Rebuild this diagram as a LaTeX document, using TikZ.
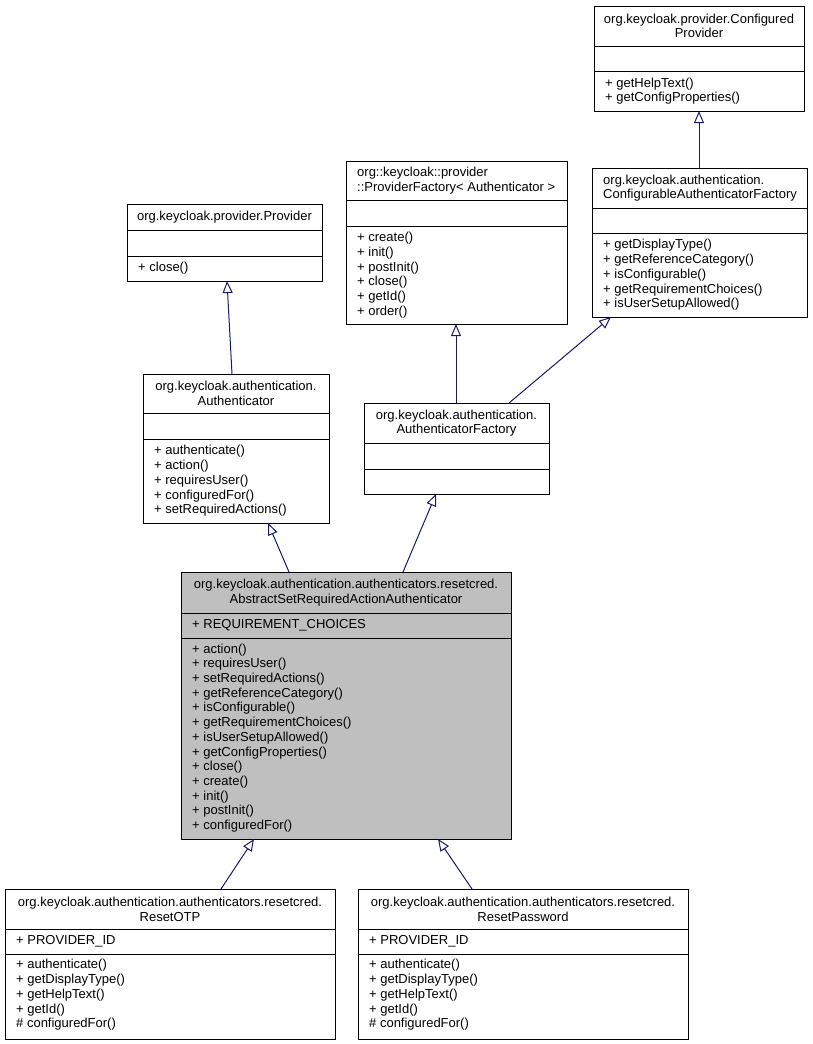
\documentclass[tikz,border=0pt]{standalone}
\usepackage{fontspec}
\setmainfont{Liberation Sans}
\usetikzlibrary{arrows.meta,calc}
\definecolor{edgeblue}{HTML}{191970}
\definecolor{absfill}{HTML}{BFBFBF}
\tikzset{
  cls/.style={draw=black, line width=1pt, fill=white, inner sep=0pt, outer sep=0pt, anchor=north west},
  divline/.style={draw=black, line width=1pt},
  ctitle/.style={inner sep=0pt, align=center, font=\fontsize{13pt}{14.7pt}\selectfont},
  ltitle/.style={inner sep=0pt, align=left, anchor=west, font=\fontsize{13pt}{14.7pt}\selectfont},
  mem/.style={inner sep=0pt, align=left, anchor=west, font=\fontsize{13pt}{14.7pt}\selectfont},
  inh/.style={draw=edgeblue, line width=1pt, -{Triangle[open, length=12pt, width=10pt, fill=white]}}
}
\begin{document}
\begin{tikzpicture}[x=1pt, y=-1pt]
\useasboundingbox[fill=white] (0,0) rectangle (812,1044);

% ConfiguredProvider
\node[cls, minimum width=210pt, minimum height=105pt] (cprov) at (594,6) {};
\draw[divline] (594,46) -- (804,46);
\draw[divline] (594,71) -- (804,71);
\node[ctitle] (cprovT) at (699,26) {org.keycloak.provider.Configured\\Provider};
\node[mem] (cprovM) at (605,91) {+ getHelpText()\\+ getConfigProperties()};

% ProviderFactory
\node[cls, minimum width=221pt, minimum height=163pt] (pfac) at (346,161) {};
\draw[divline] (346,200) -- (567,200);
\draw[divline] (346,226) -- (567,226);
\node[ltitle] (pfacT) at (357,180.5) {org::keycloak::provider\\::ProviderFactory< Authenticator >};
\node[mem] (pfacM) at (357,275) {+ create()\\+ init()\\+ postInit()\\+ close()\\+ getId()\\+ order()};

% ConfigurableAuthenticatorFactory
\node[cls, minimum width=215pt, minimum height=149pt] (caf) at (592,168) {};
\draw[divline] (592,208) -- (807,208);
\draw[divline] (592,233) -- (807,233);
\node[ltitle] (cafT) at (603,188) {org.keycloak.authentication.\\ConfigurableAuthenticatorFactory};
\node[mem] (cafM) at (603,275) {+ getDisplayType()\\+ getReferenceCategory()\\+ isConfigurable()\\+ getRequirementChoices()\\+ isUserSetupAllowed()};

% Provider
\node[cls, minimum width=195pt, minimum height=77pt] (prov) at (127,204) {};
\draw[divline] (127,230) -- (322,230);
\draw[divline] (127,256) -- (322,256);
\node[ctitle] (provT) at (224.5,217) {org.keycloak.provider.Provider};
\node[mem] (provM) at (138,268.5) {+ close()};

% Authenticator
\node[cls, minimum width=186pt, minimum height=149pt] (auth) at (143,374) {};
\draw[divline] (143,413) -- (329,413);
\draw[divline] (143,439) -- (329,439);
\node[ctitle] (authT) at (236,393.5) {org.keycloak.authentication.\\Authenticator};
\node[mem] (authM) at (154,481) {+ authenticate()\\+ action()\\+ requiresUser()\\+ configuredFor()\\+ setRequiredActions()};

% AuthenticatorFactory
\node[cls, minimum width=185pt, minimum height=91pt] (afac) at (364,403) {};
\draw[divline] (364,443) -- (549,443);
\draw[divline] (364,469) -- (549,469);
\node[ctitle] (afacT) at (456.5,423) {org.keycloak.authentication.\\AuthenticatorFactory};

% AbstractSetRequiredActionAuthenticator
\node[cls, fill=absfill, minimum width=330pt, minimum height=267pt] (abs) at (181,572) {};
\draw[divline] (181,613) -- (511,613);
\draw[divline] (181,638) -- (511,638);
\node[ctitle] (absT) at (346,592.5) {org.keycloak.authentication.authenticators.resetcred.\\AbstractSetRequiredActionAuthenticator};
\node[mem] (absA) at (192,625.5) {+ REQUIREMENT\_CHOICES};
\node[mem] (absM) at (192,738) {+ action()\\+ requiresUser()\\+ setRequiredActions()\\+ getReferenceCategory()\\+ isConfigurable()\\+ getRequirementChoices()\\+ isUserSetupAllowed()\\+ getConfigProperties()\\+ close()\\+ create()\\+ init()\\+ postInit()\\+ configuredFor()};

% ResetOTP
\node[cls, minimum width=330pt, minimum height=150pt] (rotp) at (5,889) {};
\draw[divline] (5,929) -- (335,929);
\draw[divline] (5,954) -- (335,954);
\node[ctitle] (rotpT) at (170,909) {org.keycloak.authentication.authenticators.resetcred.\\ResetOTP};
\node[mem] (rotpA) at (16,941.5) {+ PROVIDER\_ID};
\node[mem] (rotpM) at (16,995) {+ authenticate()\\+ getDisplayType()\\+ getHelpText()\\+ getId()\\\# configuredFor()};

% ResetPassword
\node[cls, minimum width=330pt, minimum height=150pt] (rpw) at (358,889) {};
\draw[divline] (358,929) -- (688,929);
\draw[divline] (358,954) -- (688,954);
\node[ctitle] (rpwT) at (523,909) {org.keycloak.authentication.authenticators.resetcred.\\ResetPassword};
\node[mem] (rpwA) at (369,941.5) {+ PROVIDER\_ID};
\node[mem] (rpwM) at (369,995) {+ authenticate()\\+ getDisplayType()\\+ getHelpText()\\+ getId()\\\# configuredFor()};

% inheritance connectors
\draw[inh] ($(auth.north west)+(89,0)$) -- ($(prov.south west)+(100,0)$);
\draw[inh] ($(afac.north west)+(92,0)$) -- ($(pfac.south west)+(110,0)$);
\draw[inh] ($(afac.north west)+(145,0)$) -- ($(caf.south west)+(19,0)$);
\draw[inh] ($(caf.north west)+(107,0)$) -- ($(cprov.south west)+(105,0)$);
\draw[inh] ($(abs.north west)+(108,0)$) -- ($(auth.south west)+(125,0)$);
\draw[inh] ($(abs.north west)+(222,0)$) -- ($(afac.south west)+(72,0)$);
\draw[inh] ($(rotp.north west)+(216,0)$) -- ($(abs.south west)+(73,0)$);
\draw[inh] ($(rpw.north west)+(114,0)$) -- ($(abs.south west)+(257,0)$);
\end{tikzpicture}
\end{document}
